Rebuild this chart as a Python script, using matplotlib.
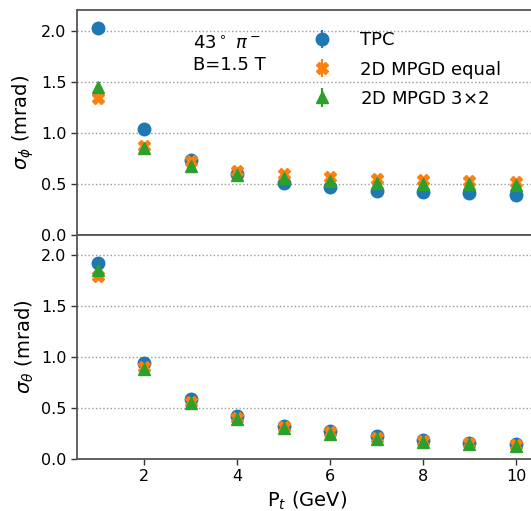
import matplotlib
matplotlib.use("Agg")
import matplotlib.pyplot as plt

pt = [1, 2, 3, 4, 5, 6, 7, 8, 9, 10]

phi_tpc = [2.03, 1.04, 0.73, 0.60, 0.51, 0.47, 0.43, 0.42, 0.41, 0.39]
phi_equal = [1.34, 0.87, 0.72, 0.63, 0.60, 0.57, 0.55, 0.54, 0.53, 0.52]
phi_3x2 = [1.45, 0.85, 0.68, 0.59, 0.56, 0.53, 0.51, 0.50, 0.50, 0.49]

theta_tpc = [1.93, 0.94, 0.59, 0.42, 0.32, 0.27, 0.22, 0.19, 0.16, 0.15]
theta_equal = [1.80, 0.90, 0.56, 0.40, 0.31, 0.26, 0.21, 0.18, 0.16, 0.14]
theta_3x2 = [1.86, 0.88, 0.55, 0.39, 0.30, 0.24, 0.20, 0.17, 0.15, 0.13]

err_small = [0.01, 0.01, 0.01, 0.01, 0.01, 0.01, 0.01, 0.01, 0.01, 0.01]

labels = ["TPC", "2D MPGD equal", r"2D MPGD 3$\times$2"]
colors = ["#1f77b4", "#ff7f0e", "#2ca02c"]
markers = ["o", "X", "^"]
xticks = [2, 4, 6, 8, 10]
yticks = [0.0, 0.5, 1.0, 1.5, 2.0]

fig = plt.figure(figsize=(5.31, 5.11), dpi=100)
ax1 = fig.add_axes([0.145, 0.540, 0.866, 0.440])
ax2 = fig.add_axes([0.145, 0.102, 0.866, 0.438])

spine_col = "#555555"
for ax, series in ((ax1, (phi_tpc, phi_equal, phi_3x2)),
                   (ax2, (theta_tpc, theta_equal, theta_3x2))):
    for vals, lab, c, m in zip(series, labels, colors, markers):
        ax.errorbar(pt, vals, yerr=err_small, fmt=m, color=c, ms=9,
                    elinewidth=1.5, capsize=0, label=lab, linestyle="none")
    ax.set_xlim(0.55, 10.45)
    ax.set_ylim(0, 2.2)
    ax.set_xticks(xticks)
    ax.set_yticks(yticks)
    ax.yaxis.grid(True, linestyle=":", color="#999999", linewidth=1.0)
    ax.set_axisbelow(True)
    for s in ax.spines.values():
        s.set_color(spine_col)
        s.set_linewidth(1.3)
    ax.tick_params(axis="both", labelsize=11.5, color="#333333",
                   length=4, width=1.0, direction="out")

ax1.tick_params(axis="x", labelbottom=False)
ax1.set_ylabel(r"$\sigma_\phi$ (mrad)", fontsize=14)
ax2.set_ylabel(r"$\sigma_\theta$ (mrad)", fontsize=14)
ax2.set_xlabel(r"P$_t$ (GeV)", fontsize=14)
ax1.yaxis.set_label_coords(-0.09, 0.5)
ax2.yaxis.set_label_coords(-0.09, 0.5)

ax1.text(0.252, 0.89, "43$^\\circ$ $\\pi^-$\nB=1.5 T", transform=ax1.transAxes,
         fontsize=13, va="top", ha="left", linespacing=1.25)

ax1.legend(loc="upper left", bbox_to_anchor=(0.458, 0.978), frameon=False,
           fontsize=13, handlelength=2.0, labelspacing=0.62, handletextpad=1.1)

fig.savefig("out.png", dpi=100)
